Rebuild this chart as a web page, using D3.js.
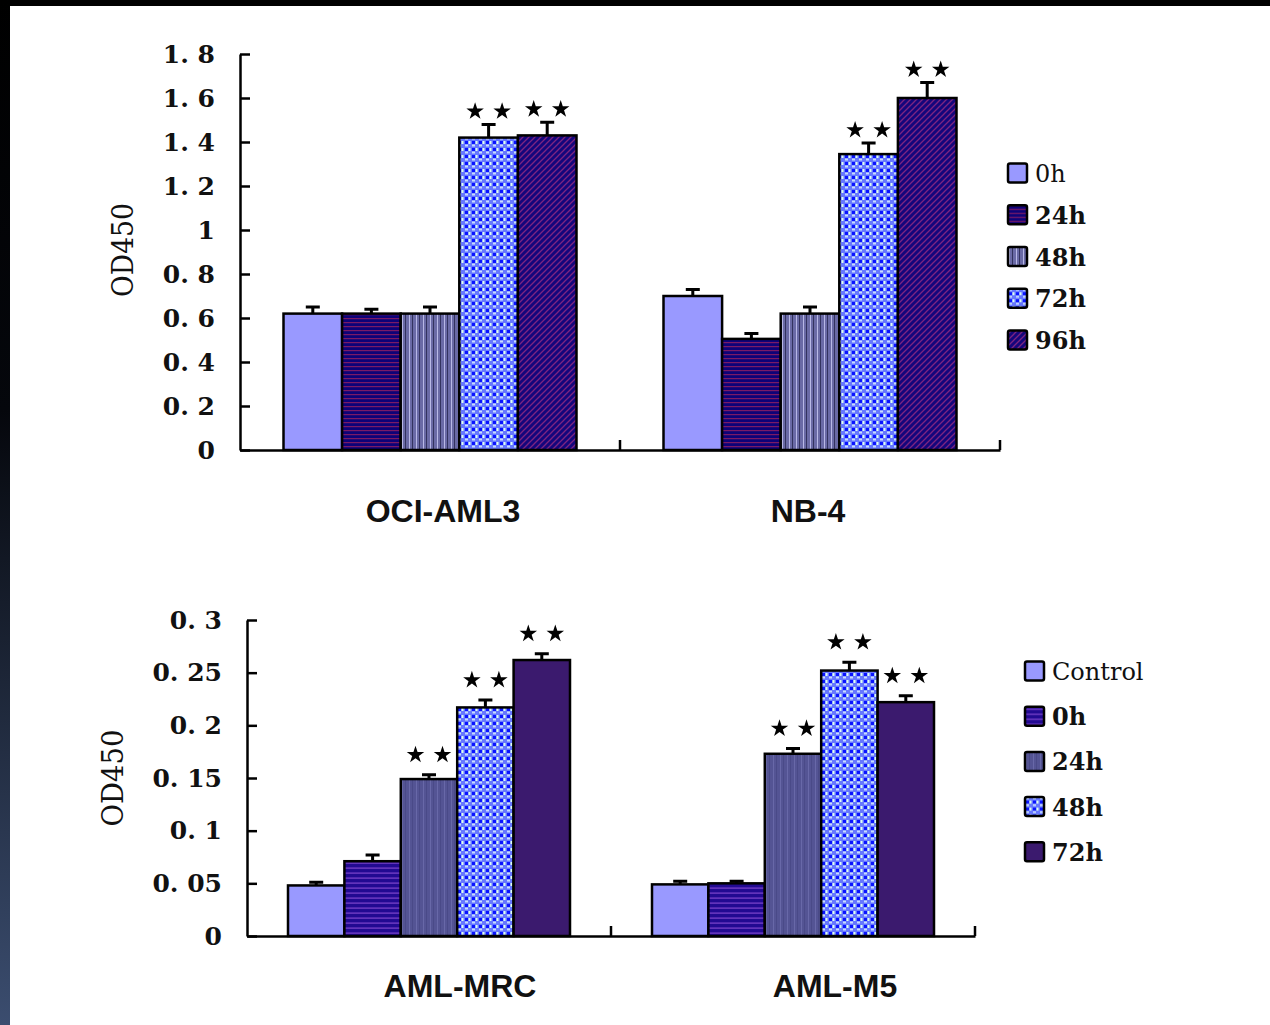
<!DOCTYPE html>
<html>
<head>
<meta charset="utf-8">
<script src="https://cdn.jsdelivr.net/npm/d3@7"></script>
<style>
body { margin: 0; background: #fff; }
svg { display: block; }
</style>
</head>
<body>
<div id="chart"></div>
<script>
// top panel
var topCategories = ["OCI-AML3", "NB-4"];
var topSeries = ["0h", "24h", "48h", "72h", "96h"];
var topValues = [[0.62, 0.62, 0.62, 1.42, 1.43], [0.70, 0.505, 0.62, 1.345, 1.60]];
var topErrors = [[0.03, 0.02, 0.03, 0.06, 0.06], [0.03, 0.025, 0.03, 0.05, 0.07]];
var topStars = [[0, 0, 0, 1, 1], [0, 0, 0, 1, 1]];
var topTicks = [0, 0.2, 0.4, 0.6, 0.8, 1, 1.2, 1.4, 1.6, 1.8];

// bottom panel
var bottomCategories = ["AML-MRC", "AML-M5"];
var bottomSeries = ["Control", "0h", "24h", "48h", "72h"];
var bottomValues = [[0.048, 0.071, 0.149, 0.217, 0.262], [0.049, 0.050, 0.173, 0.252, 0.222]];
var bottomErrors = [[0.003, 0.006, 0.004, 0.007, 0.006], [0.003, 0.002, 0.005, 0.008, 0.006]];
var bottomStars = [[0, 0, 1, 1, 1], [0, 0, 1, 1, 1]];
var bottomTicks = [0, 0.05, 0.1, 0.15, 0.2, 0.25, 0.3];

var W = 1270, H = 1025;
var svg = d3.select("#chart").append("svg").attr("width", W).attr("height", H);
var defs = svg.append("defs");

// frame of the screenshot
var grad = defs.append("linearGradient").attr("id", "edge").attr("x1", 0).attr("y1", 0).attr("x2", 0).attr("y2", 1);
grad.append("stop").attr("offset", "0").attr("stop-color", "#000");
grad.append("stop").attr("offset", "0.4").attr("stop-color", "#05070c");
grad.append("stop").attr("offset", "1").attr("stop-color", "#3b4d6f");
svg.append("rect").attr("width", W).attr("height", H).attr("fill", "#fff");
svg.append("rect").attr("width", W).attr("height", 6).attr("fill", "#000");
svg.append("rect").attr("width", 10).attr("height", H).attr("fill", "url(#edge)");

// fill patterns
function stripesH(id, base, line, size) {
  var p = defs.append("pattern").attr("id", id).attr("patternUnits", "userSpaceOnUse")
    .attr("width", 8).attr("height", size);
  p.append("rect").attr("width", 8).attr("height", size).attr("fill", base);
  p.append("rect").attr("y", size / 2).attr("width", 8).attr("height", 1.2).attr("fill", line);
}
function stripesV(id, base, light, dark) {
  var p = defs.append("pattern").attr("id", id).attr("patternUnits", "userSpaceOnUse")
    .attr("width", 7).attr("height", 8);
  p.append("rect").attr("width", 7).attr("height", 8).attr("fill", base);
  p.append("rect").attr("x", 1).attr("width", 1).attr("height", 8).attr("fill", light);
  p.append("rect").attr("x", 4).attr("width", 1).attr("height", 8).attr("fill", dark);
}
function dots(id) {
  var p = defs.append("pattern").attr("id", id).attr("patternUnits", "userSpaceOnUse")
    .attr("width", 7).attr("height", 7);
  p.append("rect").attr("width", 7).attr("height", 7).attr("fill", "#6677ff");
  p.append("rect").attr("x", 1).attr("y", 1).attr("width", 3).attr("height", 3).attr("fill", "#0a14ff");
  p.append("rect").attr("x", 4.5).attr("y", 1).attr("width", 2).attr("height", 3).attr("fill", "#ddffee");
  p.append("rect").attr("x", 1).attr("y", 4.5).attr("width", 3).attr("height", 2).attr("fill", "#c8ddff");
}
function diag(id, base, line) {
  var p = defs.append("pattern").attr("id", id).attr("patternUnits", "userSpaceOnUse")
    .attr("width", 6).attr("height", 6);
  p.append("rect").attr("width", 6).attr("height", 6).attr("fill", base);
  p.append("path").attr("d", "M-1,7L7,-1M-1,1L1,-1M5,7L7,5").attr("stroke", line).attr("stroke-width", 1.3);
}
stripesH("h24", "#0e0278", "#7a1a66", 4);
stripesV("v48", "#6a6aa6", "#b8b8e6", "#33335f");
dots("dot");
diag("d96", "#14067c", "#7e2480");
stripesH("h0b", "#220a92", "#7d44cc", 5);
stripesV("v24b", "#545494", "#6868a8", "#4a4a88");

var topFills = ["#9999ff", "url(#h24)", "url(#v48)", "url(#dot)", "url(#d96)"];
var bottomFills = ["#9999ff", "url(#h0b)", "url(#v24b)", "url(#dot)", "#3b1a6e"];

function fmt(d) { return String(+d.toFixed(2)).replace(".", ". "); }

function panel(p) {
  var g = svg.append("g");
  var x = d3.scaleBand().domain(p.cats).range([p.left, p.right]);
  var y = d3.scaleLinear().domain([0, p.yMax]).range([p.bottom, p.top]);
  var xs = d3.scaleBand().domain(p.series).range([p.inset, x.bandwidth() - p.inset]);

  p.cats.forEach(function(c, ci) {
    var rows = p.series.map(function(s, si) {
      return { s: s, si: si, v: p.values[ci][si], e: p.errors[ci][si], star: p.stars[ci][si] };
    });
    var gg = g.append("g").attr("transform", "translate(" + x(c) + ",0)");

    // error bars
    gg.selectAll(".err").data(rows).enter().append("path")
      .attr("d", function(d) {
        var cx = xs(d.s) + xs.bandwidth() / 2;
        return "M" + cx + "," + y(d.v) + "V" + y(d.v + d.e) + "M" + (cx - 7) + "," + y(d.v + d.e) + "H" + (cx + 7);
      })
      .attr("stroke", "#000").attr("stroke-width", 3).attr("fill", "none");

    gg.selectAll("rect").data(rows).enter().append("rect")
      .attr("x", function(d) { return xs(d.s); })
      .attr("y", function(d) { return y(d.v); })
      .attr("width", xs.bandwidth())
      .attr("height", function(d) { return y(0) - y(d.v); })
      .attr("fill", function(d) { return p.fills[d.si]; })
      .attr("stroke", "#000").attr("stroke-width", 2.5);

    // significance stars
    var star = d3.symbol().type(d3.symbolStar).size(95);
    rows.filter(function(d) { return d.star; }).forEach(function(d) {
      var cx = xs(d.s) + xs.bandwidth() / 2;
      var sy = y(d.v + d.e) - p.starGap;
      [-13.5, 13.5].forEach(function(dx) {
        gg.append("path").attr("d", star).attr("fill", "#000")
          .attr("transform", "translate(" + (cx + dx) + "," + sy + ")");
      });
    });
  });

  // y axis
  var ya = g.append("g").attr("transform", "translate(" + p.left + ",0)")
    .call(d3.axisLeft(y).tickValues(p.ticks).tickSize(-10).tickSizeOuter(0).tickPadding(25).tickFormat(fmt));
  ya.select(".domain").attr("stroke-width", 2.5);
  ya.selectAll(".tick line").attr("stroke-width", 2.5);
  ya.selectAll("text").attr("font-family", "DejaVu Serif").attr("font-weight", "bold")
    .attr("font-size", 25).attr("fill", "#111");

  // x axis with category labels
  var xa = g.append("g").attr("transform", "translate(0," + p.bottom + ")")
    .call(d3.axisBottom(x).tickSize(0).tickPadding(p.labelPad));
  xa.select(".domain").attr("stroke-width", 2.5);
  xa.selectAll("text").attr("font-family", "Liberation Sans, Arial, sans-serif").attr("font-weight", "bold")
    .attr("font-size", 32).attr("fill", "#111")
    .attr("dx", function(d, i) { return p.labelShift[i]; });
  var seps = p.cats.slice(1).map(function(c) { return x(c); }).concat([p.right]);
  xa.selectAll(".sep").data(seps).enter().append("line")
    .attr("x1", function(d) { return d; }).attr("x2", function(d) { return d; })
    .attr("y1", 0).attr("y2", -10).attr("stroke", "#000").attr("stroke-width", 2.5);

  // y label
  g.append("text").text("OD450")
    .attr("transform", "translate(" + p.yLabelX + "," + p.yLabelY + ") rotate(-90)")
    .attr("text-anchor", "middle").attr("font-family", "DejaVu Serif")
    .attr("font-size", 30).attr("textLength", p.yLabelLen).attr("lengthAdjust", "spacingAndGlyphs")
    .attr("fill", "#111");

  // legend
  var lg = g.selectAll(".leg").data(p.series).enter().append("g")
    .attr("transform", function(d, i) { return "translate(" + p.legX + "," + (p.legY + i * p.legStep) + ")"; });
  lg.append("rect").attr("x", 0).attr("y", -9.5).attr("width", 19).attr("height", 19).attr("rx", 2)
    .attr("fill", function(d, i) { return p.fills[i]; })
    .attr("stroke", "#000").attr("stroke-width", 2.5);
  lg.append("text").text(function(d) { return d; })
    .attr("x", 27).attr("y", 9)
    .attr("font-family", "DejaVu Serif").attr("font-size", 24)
    .attr("font-weight", function(d, i) { return i === 0 ? "normal" : "bold"; })
    .attr("fill", "#111");
}

panel({
  cats: topCategories, series: topSeries, values: topValues, errors: topErrors, stars: topStars,
  ticks: topTicks, fills: topFills, yMax: 1.8,
  left: 240, right: 1000, bottom: 450, top: 54, inset: 43.5,
  starGap: 13, labelPad: 49, labelShift: [13, -2],
  yLabelX: 133, yLabelY: 250, yLabelLen: 94,
  legX: 1008, legY: 173, legStep: 41.75
});

panel({
  cats: bottomCategories, series: bottomSeries, values: bottomValues, errors: bottomErrors, stars: bottomStars,
  ticks: bottomTicks, fills: bottomFills, yMax: 0.3,
  left: 247, right: 975, bottom: 936, top: 620, inset: 41,
  starGap: 20, labelPad: 38, labelShift: [31, 42],
  yLabelX: 123, yLabelY: 778, yLabelLen: 97,
  legX: 1025, legY: 671, legStep: 45.2
});
</script>
</body>
</html>
